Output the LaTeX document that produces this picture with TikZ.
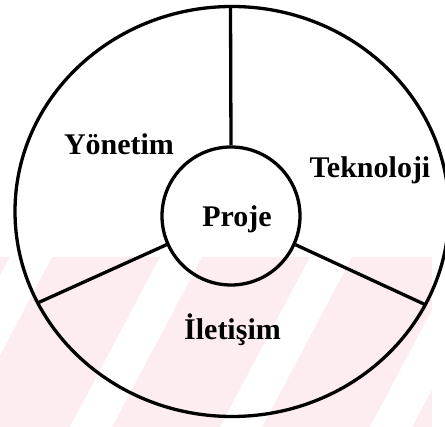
\documentclass[tikz,border=0pt]{standalone}
\usepackage{fontspec}
\setmainfont{Liberation Serif}
\definecolor{wmpink}{RGB}{253,237,240}
\begin{document}
\begin{tikzpicture}[x=1pt,y=-1pt,line width=3.3pt,
  lbl/.style={anchor=base,inner sep=0pt,font=\fontsize{30}{32}\selectfont\bfseries}]
\useasboundingbox (0,0) rectangle (445,427);
% faint watermark band
\begin{scope}
  \clip (0,257) rectangle (432,427);
  \fill[wmpink] (0,257) rectangle (445,427);
  \foreach \a in {10,160,...,610}
    \fill[white] (\a,257) -- (\a+42,257) -- (\a-48,427) -- (\a-90,427) -- cycle;
\end{scope}
% outer ring
\draw (232,211.5) ellipse [x radius=217, y radius=205];
% centre
\node[draw,circle,minimum size=138pt,inner sep=0pt] (core) at (231,216) {};
\coordinate (top) at (230.5,6.5);
\coordinate (lft) at (37.5,303);
\coordinate (rgt) at (426,305);
\draw (core.north) -- (top);
\draw (core.204) -- (lft);
\draw (core.336) -- (rgt);
% labels
\node[lbl] (proje) at (237,227) {Proje};
\node[lbl] (yon) at (119,155) {Yönetim};
\node[lbl] (tek) at (370,178) {Teknoloji};
\node[lbl] (ilet) at (232.5,340) {İletişim};
\end{tikzpicture}
\end{document}
